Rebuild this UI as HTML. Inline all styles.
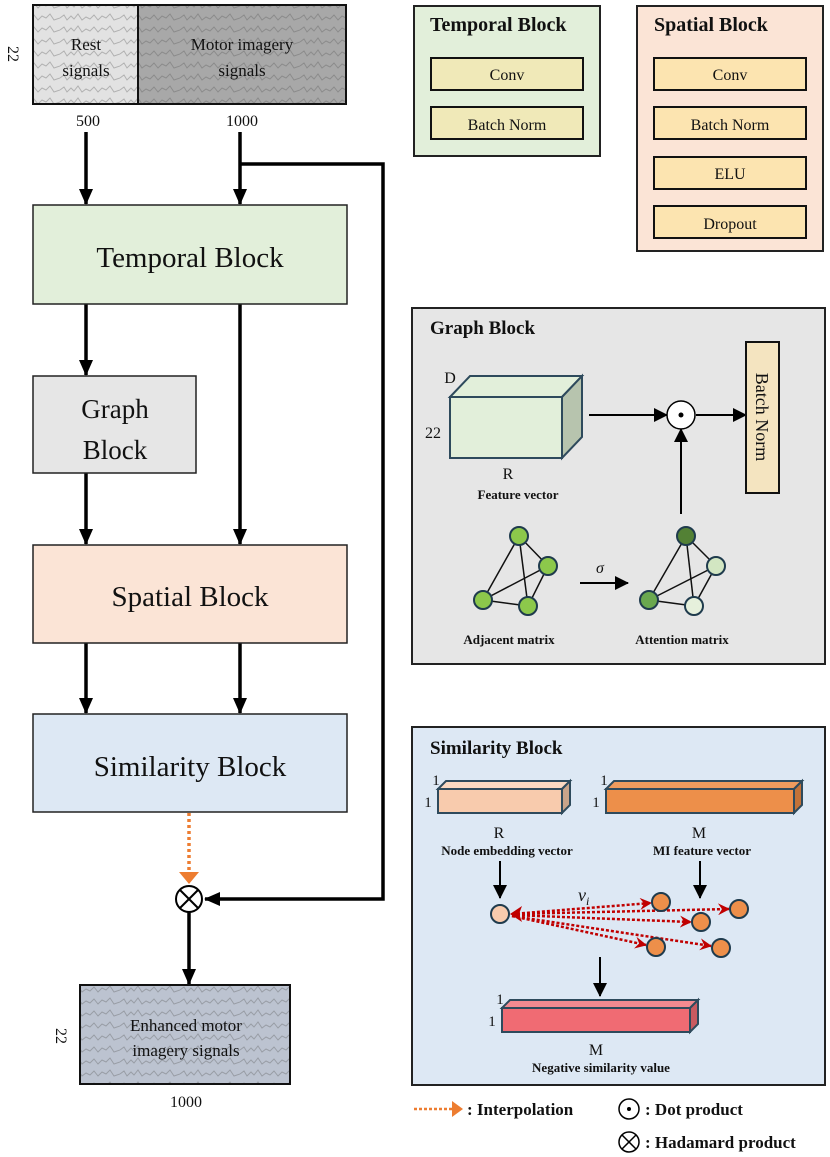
<!DOCTYPE html>
<html><head><meta charset="utf-8"><style>
html,body{margin:0;padding:0;background:#fff;width:830px;height:1157px;overflow:hidden}
svg{display:block}
.s{font-family:"Liberation Serif",serif;fill:#111}
.b{font-family:"Liberation Serif",serif;font-weight:bold;fill:#111}
</style></head><body>
<svg width="830" height="1157" viewBox="0 0 830 1157" xmlns="http://www.w3.org/2000/svg">
<defs>
<marker id="ah" markerWidth="14" markerHeight="14" refX="13" refY="7" orient="auto" markerUnits="userSpaceOnUse"><path d="M0,0 L14,7 L0,14 z" fill="#000"/></marker>
<marker id="ahb" markerWidth="16" markerHeight="14" refX="15" refY="7" orient="auto" markerUnits="userSpaceOnUse"><path d="M0,0 L16,7 L0,14 z" fill="#000"/></marker>
<marker id="ahr" markerWidth="12" markerHeight="12" refX="11" refY="6" orient="auto" markerUnits="userSpaceOnUse"><path d="M0,0 L12,6 L0,12 L4,6 z" fill="#c00000"/></marker>
<pattern id="wave" width="60" height="12" patternUnits="userSpaceOnUse">
<path d="M0,6 L4,3 L7,8 L11,4 L14,7 L18,2 L22,8 L26,5 L30,7 L34,3 L38,8 L42,4 L46,6 L50,2 L54,8 L60,6" fill="none" stroke="#555" stroke-opacity="0.35" stroke-width="1"/>
</pattern>
</defs>

<!-- top signals -->
<rect x="33" y="5" width="105" height="99" fill="#e2e2e2"/>
<rect x="138" y="5" width="208" height="99" fill="#a8a8a8"/>
<rect x="33" y="5" width="313" height="99" fill="url(#wave)"/>
<rect x="33" y="5" width="313" height="99" fill="none" stroke="#111" stroke-width="2"/>
<line x1="138" y1="5" x2="138" y2="104" stroke="#111" stroke-width="2"/>
<text class="s" x="86" y="50" font-size="17" text-anchor="middle">Rest</text>
<text class="s" x="86" y="76" font-size="17" text-anchor="middle">signals</text>
<text class="s" x="242" y="50" font-size="17" text-anchor="middle">Motor imagery</text>
<text class="s" x="242" y="76" font-size="17" text-anchor="middle">signals</text>
<text class="s" x="0" y="0" font-size="16" text-anchor="middle" transform="translate(8,54) rotate(90)">22</text>
<text class="s" x="88" y="126" font-size="16" text-anchor="middle">500</text>
<text class="s" x="242" y="126" font-size="16" text-anchor="middle">1000</text>

<g stroke="#000" stroke-width="3.5" fill="none">
<line x1="86" y1="132" x2="86" y2="204" marker-end="url(#ahb)"/>
<line x1="240" y1="132" x2="240" y2="204" marker-end="url(#ahb)"/>
<polyline points="240,164 383,164 383,899 205,899" marker-end="url(#ahb)"/>
<line x1="86" y1="304" x2="86" y2="375" marker-end="url(#ahb)"/>
<line x1="86" y1="473" x2="86" y2="544" marker-end="url(#ahb)"/>
<line x1="240" y1="304" x2="240" y2="544" marker-end="url(#ahb)"/>
<line x1="86" y1="643" x2="86" y2="713" marker-end="url(#ahb)"/>
<line x1="240" y1="643" x2="240" y2="713" marker-end="url(#ahb)"/>
<line x1="189" y1="912" x2="189" y2="984" marker-end="url(#ahb)"/>
</g>

<rect x="33" y="205" width="314" height="99" fill="#e2efda" stroke="#222" stroke-width="1.5"/>
<text class="s" x="190" y="267" font-size="29" text-anchor="middle">Temporal Block</text>
<rect x="33" y="376" width="163" height="97" fill="#e6e6e6" stroke="#222" stroke-width="1.5"/>
<text class="s" x="115" y="418" font-size="27" text-anchor="middle">Graph</text>
<text class="s" x="115" y="459" font-size="27" text-anchor="middle">Block</text>
<rect x="33" y="545" width="314" height="98" fill="#fbe4d6" stroke="#222" stroke-width="1.5"/>
<text class="s" x="190" y="606" font-size="29" text-anchor="middle">Spatial Block</text>
<rect x="33" y="714" width="314" height="98" fill="#dde8f4" stroke="#222" stroke-width="1.5"/>
<text class="s" x="190" y="776" font-size="29" text-anchor="middle">Similarity Block</text>

<!-- interpolation -->
<line x1="189" y1="813" x2="189" y2="872" stroke="#ed7d31" stroke-width="3.5" stroke-dasharray="3,3"/>
<path d="M179,872 L199,872 L189,884 z" fill="#ed7d31"/>
<circle cx="189" cy="899" r="13" fill="#fff" stroke="#000" stroke-width="2"/>
<line x1="180" y1="890" x2="198" y2="908" stroke="#000" stroke-width="2"/>
<line x1="198" y1="890" x2="180" y2="908" stroke="#000" stroke-width="2"/>

<!-- enhanced -->
<rect x="80" y="985" width="210" height="99" fill="#bcc3d0"/>
<rect x="80" y="985" width="210" height="99" fill="url(#wave)"/>
<rect x="80" y="985" width="210" height="99" fill="none" stroke="#111" stroke-width="2"/>
<text class="s" x="186" y="1031" font-size="17" text-anchor="middle">Enhanced motor</text>
<text class="s" x="186" y="1056" font-size="17" text-anchor="middle">imagery signals</text>
<text class="s" x="0" y="0" font-size="16" text-anchor="middle" transform="translate(56,1036) rotate(90)">22</text>
<text class="s" x="186" y="1107" font-size="16" text-anchor="middle">1000</text>

<!-- temporal legend -->
<rect x="414" y="6" width="186" height="150" fill="#e2efda" stroke="#222" stroke-width="2"/>
<text class="b" x="430" y="31" font-size="20">Temporal Block</text>
<rect x="431" y="58" width="152" height="32" fill="#f0e9b8" stroke="#111" stroke-width="2"/>
<text class="s" x="507" y="80" font-size="16" text-anchor="middle">Conv</text>
<rect x="431" y="107" width="152" height="32" fill="#f0e9b8" stroke="#111" stroke-width="2"/>
<text class="s" x="507" y="130" font-size="16" text-anchor="middle">Batch Norm</text>

<!-- spatial legend -->
<rect x="637" y="6" width="186" height="245" fill="#fbe4d6" stroke="#222" stroke-width="2"/>
<text class="b" x="654" y="31" font-size="20">Spatial Block</text>
<rect x="654" y="58" width="152" height="32" fill="#fce4b0" stroke="#111" stroke-width="2"/>
<text class="s" x="730" y="80" font-size="16" text-anchor="middle">Conv</text>
<rect x="654" y="107" width="152" height="32" fill="#fce4b0" stroke="#111" stroke-width="2"/>
<text class="s" x="730" y="130" font-size="16" text-anchor="middle">Batch Norm</text>
<rect x="654" y="157" width="152" height="32" fill="#fce4b0" stroke="#111" stroke-width="2"/>
<text class="s" x="730" y="179" font-size="16" text-anchor="middle">ELU</text>
<rect x="654" y="206" width="152" height="32" fill="#fce4b0" stroke="#111" stroke-width="2"/>
<text class="s" x="730" y="229" font-size="16" text-anchor="middle">Dropout</text>

<!-- graph block panel -->
<rect x="412" y="308" width="413" height="356" fill="#e6e6e6" stroke="#222" stroke-width="2"/>
<text class="b" x="430" y="334" font-size="19">Graph Block</text>
<path d="M450,397 L470,376 L582,376 L562,397 z" fill="#e2efda" stroke="#2e4a5c" stroke-width="2"/>
<path d="M562,397 L582,376 L582,437 L562,458 z" fill="#b7c4ae" stroke="#2e4a5c" stroke-width="2"/>
<rect x="450" y="397" width="112" height="61" fill="#e2efda" stroke="#2e4a5c" stroke-width="2"/>
<text class="s" x="450" y="383" font-size="16" text-anchor="middle">D</text>
<text class="s" x="433" y="438" font-size="16" text-anchor="middle">22</text>
<text class="s" x="508" y="479" font-size="16" text-anchor="middle">R</text>
<text class="b" x="518" y="499" font-size="13" text-anchor="middle">Feature vector</text>
<g stroke="#000" stroke-width="2" fill="none">
<line x1="589" y1="415" x2="667" y2="415" marker-end="url(#ah)"/>
<line x1="696" y1="415" x2="746" y2="415" marker-end="url(#ah)"/>
<line x1="681" y1="514" x2="681" y2="429" marker-end="url(#ah)"/>
<line x1="580" y1="583" x2="628" y2="583" marker-end="url(#ah)"/>
</g>
<circle cx="681" cy="415" r="14" fill="#fff" stroke="#000" stroke-width="1.5"/>
<circle cx="681" cy="415" r="2.5" fill="#000"/>
<rect x="746" y="342" width="33" height="151" fill="#f4e4c0" stroke="#111" stroke-width="2"/>
<text class="s" x="0" y="0" font-size="18" text-anchor="middle" transform="translate(756,417) rotate(90)">Batch Norm</text>
<text class="s" x="600" y="573" font-size="16" font-style="italic" text-anchor="middle">σ</text>
<g stroke="#111" stroke-width="1.5">
<line x1="519" y1="536" x2="483" y2="600"/><line x1="519" y1="536" x2="528" y2="606"/><line x1="519" y1="536" x2="548" y2="566"/>
<line x1="548" y1="566" x2="483" y2="600"/><line x1="548" y1="566" x2="528" y2="606"/><line x1="483" y1="600" x2="528" y2="606"/>
<line x1="686" y1="536" x2="649" y2="600"/><line x1="686" y1="536" x2="694" y2="606"/><line x1="686" y1="536" x2="716" y2="566"/>
<line x1="716" y1="566" x2="649" y2="600"/><line x1="716" y1="566" x2="694" y2="606"/><line x1="649" y1="600" x2="694" y2="606"/>
</g>
<g stroke="#1f3b4d" stroke-width="2">
<circle cx="519" cy="536" r="9" fill="#8cc84b"/><circle cx="548" cy="566" r="9" fill="#8cc84b"/>
<circle cx="483" cy="600" r="9" fill="#8cc84b"/><circle cx="528" cy="606" r="9" fill="#8cc84b"/>
<circle cx="686" cy="536" r="9" fill="#538135"/><circle cx="716" cy="566" r="9" fill="#d2e6c2"/>
<circle cx="649" cy="600" r="9" fill="#6aa84f"/><circle cx="694" cy="606" r="9" fill="#e6f0dc"/>
</g>
<text class="b" x="509" y="644" font-size="13" text-anchor="middle">Adjacent matrix</text>
<text class="b" x="682" y="644" font-size="13" text-anchor="middle">Attention matrix</text>

<!-- similarity panel -->
<rect x="412" y="727" width="413" height="358" fill="#dde8f4" stroke="#222" stroke-width="2"/>
<text class="b" x="430" y="754" font-size="19">Similarity Block</text>
<path d="M438,789 L446,781 L570,781 L562,789 z" fill="#fbd9c2" stroke="#2e4a5c" stroke-width="2"/>
<path d="M562,789 L570,781 L570,805 L562,813 z" fill="#c9a48a" stroke="#2e4a5c" stroke-width="2"/>
<rect x="438" y="789" width="124" height="24" fill="#f8cbad" stroke="#2e4a5c" stroke-width="2"/>
<text class="s" x="436" y="785" font-size="15" text-anchor="middle">1</text>
<text class="s" x="428" y="807" font-size="15" text-anchor="middle">1</text>
<text class="s" x="499" y="838" font-size="16" text-anchor="middle">R</text>
<text class="b" x="507" y="855" font-size="13" text-anchor="middle">Node embedding vector</text>
<path d="M606,789 L614,781 L802,781 L794,789 z" fill="#ee9b5e" stroke="#2e4a5c" stroke-width="2"/>
<path d="M794,789 L802,781 L802,805 L794,813 z" fill="#c27238" stroke="#2e4a5c" stroke-width="2"/>
<rect x="606" y="789" width="188" height="24" fill="#ed8f4a" stroke="#2e4a5c" stroke-width="2"/>
<text class="s" x="604" y="785" font-size="15" text-anchor="middle">1</text>
<text class="s" x="596" y="807" font-size="15" text-anchor="middle">1</text>
<text class="s" x="699" y="838" font-size="16" text-anchor="middle">M</text>
<text class="b" x="702" y="855" font-size="13" text-anchor="middle">MI feature vector</text>
<g stroke="#000" stroke-width="2">
<line x1="500" y1="861" x2="500" y2="898" marker-end="url(#ah)"/>
<line x1="700" y1="861" x2="700" y2="898" marker-end="url(#ah)"/>
<line x1="600" y1="957" x2="600" y2="996" marker-end="url(#ah)"/>
</g>
<g stroke="#c00000" stroke-width="2.5" stroke-dasharray="3,2" fill="none">
<line x1="512" y1="914" x2="651" y2="903" marker-end="url(#ahr)"/>
<line x1="512" y1="914" x2="729" y2="909" marker-end="url(#ahr)"/>
<line x1="512" y1="915" x2="691" y2="922" marker-end="url(#ahr)"/>
<line x1="512" y1="916" x2="646" y2="945" marker-end="url(#ahr)"/>
<line x1="512" y1="916" x2="711" y2="946" marker-end="url(#ahr)"/>
</g>
<path d="M510,914 L522,906 L519,914 L522,922 z" fill="#c00000"/>
<g stroke="#1f3b4d" stroke-width="2">
<circle cx="500" cy="914" r="9" fill="#f8cbad"/>
<circle cx="661" cy="902" r="9" fill="#ed8f4a"/><circle cx="739" cy="909" r="9" fill="#ed8f4a"/>
<circle cx="701" cy="922" r="9" fill="#ed8f4a"/><circle cx="656" cy="947" r="9" fill="#ed8f4a"/>
<circle cx="721" cy="948" r="9" fill="#ed8f4a"/>
</g>
<text class="s" x="578" y="901" font-size="18" font-style="italic">v<tspan font-size="12" dy="4">i</tspan></text>
<path d="M502,1008 L510,1000 L698,1000 L690,1008 z" fill="#f28a90" stroke="#2e4a5c" stroke-width="2"/>
<path d="M690,1008 L698,1000 L698,1024 L690,1032 z" fill="#c95a60" stroke="#2e4a5c" stroke-width="2"/>
<rect x="502" y="1008" width="188" height="24" fill="#f06b73" stroke="#2e4a5c" stroke-width="2"/>
<text class="s" x="500" y="1004" font-size="15" text-anchor="middle">1</text>
<text class="s" x="492" y="1026" font-size="15" text-anchor="middle">1</text>
<text class="s" x="596" y="1055" font-size="16" text-anchor="middle">M</text>
<text class="b" x="601" y="1072" font-size="13" text-anchor="middle">Negative similarity value</text>

<!-- legend -->
<line x1="414" y1="1109" x2="452" y2="1109" stroke="#ed7d31" stroke-width="2.5" stroke-dasharray="3,2"/>
<path d="M452,1101 L463,1109 L452,1117 z" fill="#ed7d31"/>
<text class="b" x="467" y="1115" font-size="17">: Interpolation</text>
<circle cx="629" cy="1109" r="10" fill="#fff" stroke="#000" stroke-width="1.5"/>
<circle cx="629" cy="1109" r="2" fill="#000"/>
<text class="b" x="645" y="1115" font-size="17">: Dot product</text>
<circle cx="629" cy="1142" r="10" fill="#fff" stroke="#000" stroke-width="1.5"/>
<line x1="622" y1="1135" x2="636" y2="1149" stroke="#000" stroke-width="1.5"/>
<line x1="636" y1="1135" x2="622" y2="1149" stroke="#000" stroke-width="1.5"/>
<text class="b" x="645" y="1148" font-size="17">: Hadamard product</text>
</svg>
</body></html>
